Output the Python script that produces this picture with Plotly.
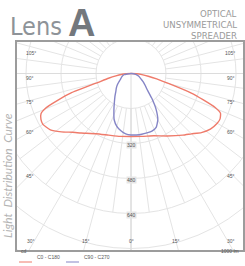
import numpy as np
import plotly.graph_objects as go

# ---------------- data (luminous intensity, cd) ----------------
# red: C0 (right) / C180 (left)
red_angles = [0, 10, 20, 30, 40, 45, 50, 55, 60, 63, 66, 68, 70, 72, 75, 78, 81, 84, 87, 90]
red_c0 =     [288, 292, 303, 330, 368, 390, 420, 443, 455, 457, 448, 415, 350, 290, 180, 120, 80, 50, 25, 0]
red_c180 =   [288, 292, 300, 318, 355, 380, 415, 450, 465, 462, 450, 420, 355, 290, 155, 105, 70, 45, 22, 0]
# blue: C90 (right) / C270 (left)
blue_angles = [0, 5, 10, 15, 20, 25, 30, 35, 40, 45, 50, 55, 60, 70, 80, 90]
blue_c90 =    [281, 282, 282, 281, 280, 272, 245, 200, 148, 105, 85, 70, 55, 38, 22, 0]
blue_c270 =   [281, 277, 266, 250, 225, 185, 152, 128, 108, 95, 82, 68, 57, 45, 33, 0]

ring_values = [160, 320, 480, 640, 800, 960]
ring_labels = ["320", "480", "640"]
side_labels = ["105°", "90°", "75°", "60°", "45°"]
bottom_labels = ["30°", "15°", "0°", "15°", "30°"]
legend_names = ["C0 - C180", "C90 - C270"]
colors = ["#ef7b6b", "#8585c6"]

W, H = 245, 266
S = 160 / 35.0  # cd per pixel


def px(x):
    return x / W


def py(y):
    return 1 - y / H


def curve(angles, right, left):
    a = np.radians(np.array(angles, dtype=float))
    r_r = np.array(right, dtype=float)
    r_l = np.array(left, dtype=float)
    xl = -(r_l * np.sin(a))[::-1]
    yl = -(r_l * np.cos(a))[::-1]
    xr = r_r * np.sin(a)
    yr = -r_r * np.cos(a)
    return np.concatenate([xl, xr[1:]]), np.concatenate([yl, yr[1:]])


fig = go.Figure()
for (ang, rr, ll), col, name in zip(
    [(red_angles, red_c0, red_c180), (blue_angles, blue_c90, blue_c270)], colors, legend_names
):
    x, y = curve(ang, rr, ll)
    fig.add_trace(go.Scatter(x=x, y=y, mode="lines", name=name,
                             line=dict(color=col, width=1.4, shape="spline", smoothing=0.4),
                             showlegend=False, hoverinfo="skip"))

shapes = []
grid_col = "#e4e4e4"
for r in ring_values:
    shapes.append(dict(type="circle", xref="x", yref="y", x0=-r, x1=r, y0=-r, y1=r,
                       line=dict(color=grid_col, width=1), layer="below"))
for g in np.arange(0, 180.1, 7.5):
    major = abs(g / 15 - round(g / 15)) < 1e-9
    r0, r1 = (160, 3000) if major else (160, 640)
    for sgn in (-1, 1):
        t = np.radians(g)
        shapes.append(dict(type="line", xref="x", yref="y",
                           x0=sgn * r0 * np.sin(t), y0=-r0 * np.cos(t),
                           x1=sgn * r1 * np.sin(t), y1=-r1 * np.cos(t),
                           line=dict(color=grid_col, width=1), layer="below"))
shapes.append(dict(type="line", xref="x", yref="y", x0=-3000, x1=3000, y0=0, y1=0,
                   line=dict(color="#dcdcdc", width=1), layer="below"))
shapes.append(dict(type="line", xref="x", yref="y", x0=0, x1=0, y0=0, y1=-3000,
                   line=dict(color="#dcdcdc", width=1), layer="below"))
shapes.append(dict(type="line", xref="paper", yref="paper", x0=px(19), x1=px(32), y0=py(262), y1=py(262),
                   line=dict(color=colors[0], width=1)))
shapes.append(dict(type="line", xref="paper", yref="paper", x0=px(66), x1=px(79), y0=py(262), y1=py(262),
                   line=dict(color=colors[1], width=1)))

ann = []
small = dict(family="Liberation Sans", size=5, color="#555")
cond = "Liberation Sans Narrow, DejaVu Sans Condensed, Arial Narrow, sans-serif"
ann.append(dict(x=px(64), y=py(37), xref="paper", yref="paper", xanchor="right", yanchor="bottom",
                text="Lens", showarrow=False,
                font=dict(family=cond, size=25, color="#8e9398"), yshift=-6))
ann.append(dict(x=px(66), y=py(37), xref="paper", yref="paper", xanchor="left", yanchor="bottom",
                text="<b>A</b>", showarrow=False,
                font=dict(family="Liberation Sans", size=38, color="#73787d"), yshift=-9))
for txt, yy in zip(["OPTICAL", "UNSYMMETRICAL", "SPREADER"], [14, 25, 36]):
    ann.append(dict(x=px(239), y=py(yy), xref="paper", yref="paper", xanchor="right", yanchor="middle",
                    text=txt, showarrow=False,
                    font=dict(family="DejaVu Sans", size=8.6, color="#9a9a9a")))
ann.append(dict(x=px(7), y=py(176), xref="paper", yref="paper", xanchor="center", yanchor="middle",
                text="<i>Light  Distribution  Curve</i>", textangle=-90, showarrow=False,
                font=dict(family="Lato", size=12, color="#b4b4b4")))
for lab, yy in zip(side_labels, [48, 73, 102, 132, 176]):
    ann.append(dict(x=px(24), y=py(yy), xref="paper", yref="paper", text=lab, showarrow=False, font=small))
    ann.append(dict(x=px(237), y=py(yy), xref="paper", yref="paper", text=lab, showarrow=False, font=small))
for lab, xx in zip(bottom_labels, [25, 80, 131, 182, 237]):
    ann.append(dict(x=px(xx), y=py(246), xref="paper", yref="paper", text=lab, showarrow=False, font=small))
for lab in ring_labels:
    v = float(lab)
    ann.append(dict(x=0, y=-v, xref="x", yref="y", text=lab, showarrow=False, yshift=-1,
                    font=small, bgcolor="#e6e6e6", borderpad=0))
ann.append(dict(x=px(19), y=py(256), xref="paper", yref="paper", xanchor="left", text="cd",
                showarrow=False, font=small))
ann.append(dict(x=px(241), y=py(256), xref="paper", yref="paper", xanchor="right", text="1000 lm",
                showarrow=False, font=small))
ann.append(dict(x=px(35), y=py(262), xref="paper", yref="paper", xanchor="left", text=legend_names[0],
                showarrow=False, font=small))
ann.append(dict(x=px(82), y=py(262), xref="paper", yref="paper", xanchor="left", text=legend_names[1],
                showarrow=False, font=small))

fig.update_layout(
    width=W, height=H, margin=dict(l=0, r=0, t=0, b=0),
    paper_bgcolor="white", plot_bgcolor="white",
    shapes=shapes, annotations=ann, showlegend=False,
    xaxis=dict(domain=[px(17), px(243)], range=[-114 * S, 112 * S], showgrid=False, zeroline=False,
               showticklabels=False, ticks="", showline=True, mirror=True, linecolor="#9c9c9c",
               linewidth=1.5, fixedrange=True),
    yaxis=dict(domain=[1 - 250 / H, 1 - 42 / H], range=[-176.5 * S, 31.5 * S], showgrid=False,
               zeroline=False, showticklabels=False, ticks="", showline=True, mirror=True,
               linecolor="#9c9c9c", linewidth=1.5, fixedrange=True),
)
fig.write_html("out.html", config={"displayModeBar": False},
               post_script="document.body.style.margin='0';")
